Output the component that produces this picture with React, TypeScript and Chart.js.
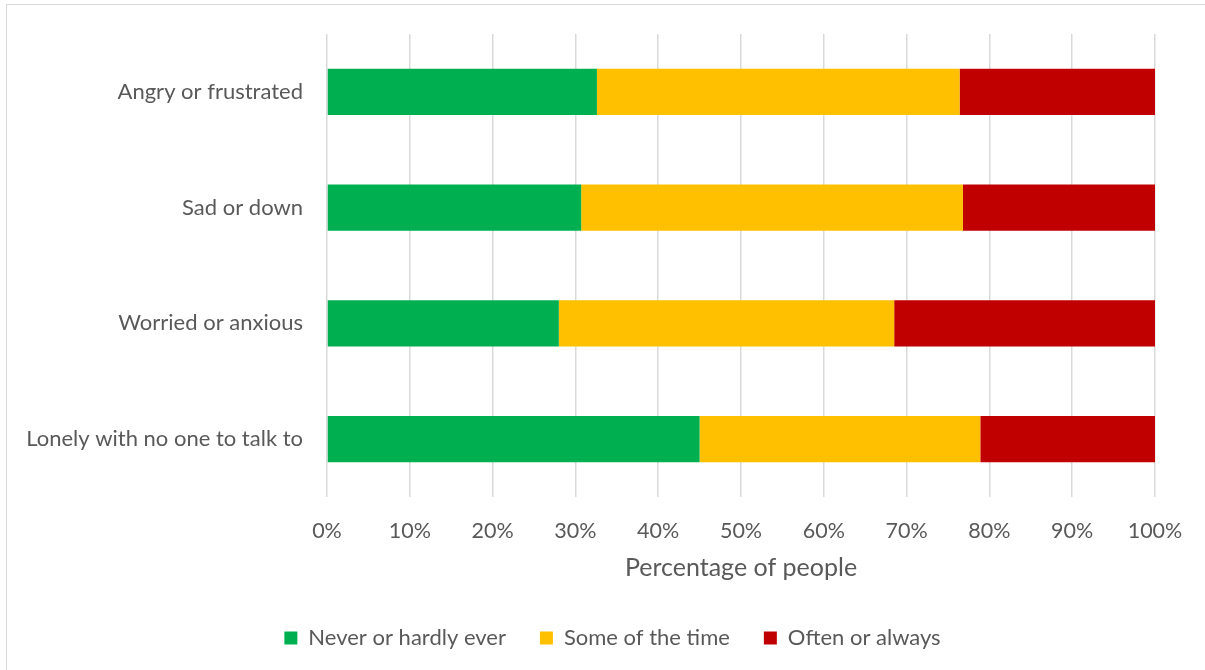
import React, { useEffect, useRef } from "react";
import { Chart, registerables } from "chart.js";

Chart.register(...registerables);

const categories = [
  "Angry or frustrated",
  "Sad or down",
  "Worried or anxious",
  "Lonely with no one to talk to",
];
const neverValues = [32.6, 30.7, 28.0, 45.0];
const sometimesValues = [43.8, 46.1, 40.5, 33.9];
const oftenValues = [23.6, 23.2, 31.5, 21.1];
const seriesNames = ["Never or hardly ever", "Some of the time", "Often or always"];
const xTicks = [0, 10, 20, 30, 40, 50, 60, 70, 80, 90, 100];
const xTitle = "Percentage of people";

const FONT = "Lato, 'Open Sans', sans-serif";
const TEXT = "#595959";

const legendShift = {
  id: "legendShift",
  afterLayout(chart: any) {
    const l = chart.legend;
    if (l) {
      l.left += 35;
      l.right += 35;
    }
  },
};

export default function App() {
  const ref = useRef<HTMLCanvasElement | null>(null);

  useEffect(() => {
    if (!ref.current) return;
    const chart = new Chart(ref.current, {
      type: "bar",
      data: {
        labels: categories,
        datasets: [
          { label: seriesNames[0], data: neverValues, backgroundColor: "#00B050" },
          { label: seriesNames[1], data: sometimesValues, backgroundColor: "#FFC000" },
          { label: seriesNames[2], data: oftenValues, backgroundColor: "#C00000" },
        ],
      },
      plugins: [legendShift],
      options: {
        indexAxis: "y",
        responsive: false,
        animation: false,
        devicePixelRatio: 1,
        datasets: { bar: { categoryPercentage: 1, barPercentage: 0.4, borderWidth: 0 } },
        layout: { padding: { top: 34, right: 50, bottom: 11, left: 0 } },
        scales: {
          x: {
            stacked: true,
            min: 0,
            max: 100,
            afterBuildTicks: (scale: any) => {
              scale.ticks = xTicks.map((v) => ({ value: v }));
            },
            afterFit: (scale: any) => {
              scale.height = 96;
            },
            grid: { color: "#D9D9D9", lineWidth: 1.5, drawTicks: false },
            border: { display: false },
            ticks: {
              padding: 21,
              color: TEXT,
              font: { family: FONT, size: 21.5 },
              callback: (v: any) => v + "%",
              maxRotation: 0,
            },
            title: {
              display: true,
              text: xTitle,
              color: TEXT,
              font: { family: FONT, size: 25 },
              padding: { top: 0, bottom: 10 },
            },
          },
          y: {
            stacked: true,
            afterFit: (scale: any) => {
              scale.width = 327;
              scale.paddingTop = 0;
              scale.paddingBottom = 0;
            },
            grid: { display: false, drawTicks: false },
            border: { display: false },
            ticks: { padding: 24, color: TEXT, font: { family: FONT, size: 22 } },
          },
        },
        plugins: {
          legend: {
            position: "bottom",
            labels: {
              color: TEXT,
              font: { family: FONT, size: 22 },
              boxWidth: 13,
              boxHeight: 13,
              padding: 34,
            },
          },
          tooltip: { enabled: false },
        },
      },
    });
    return () => chart.destroy();
  }, []);

  return (
    <div style={{ position: "absolute", left: 0, top: 0, width: 1205, height: 670, background: "#fff" }}>
      <div
        style={{
          position: "absolute",
          left: 6,
          top: 4,
          width: 1205,
          height: 670,
          borderLeft: "1.5px solid #D9D9D9",
          borderTop: "1.5px solid #D9D9D9",
          boxSizing: "border-box",
        }}
      />
      <canvas ref={ref} width={1205} height={670} style={{ position: "absolute", left: 0, top: 0 }} />
    </div>
  );
}
